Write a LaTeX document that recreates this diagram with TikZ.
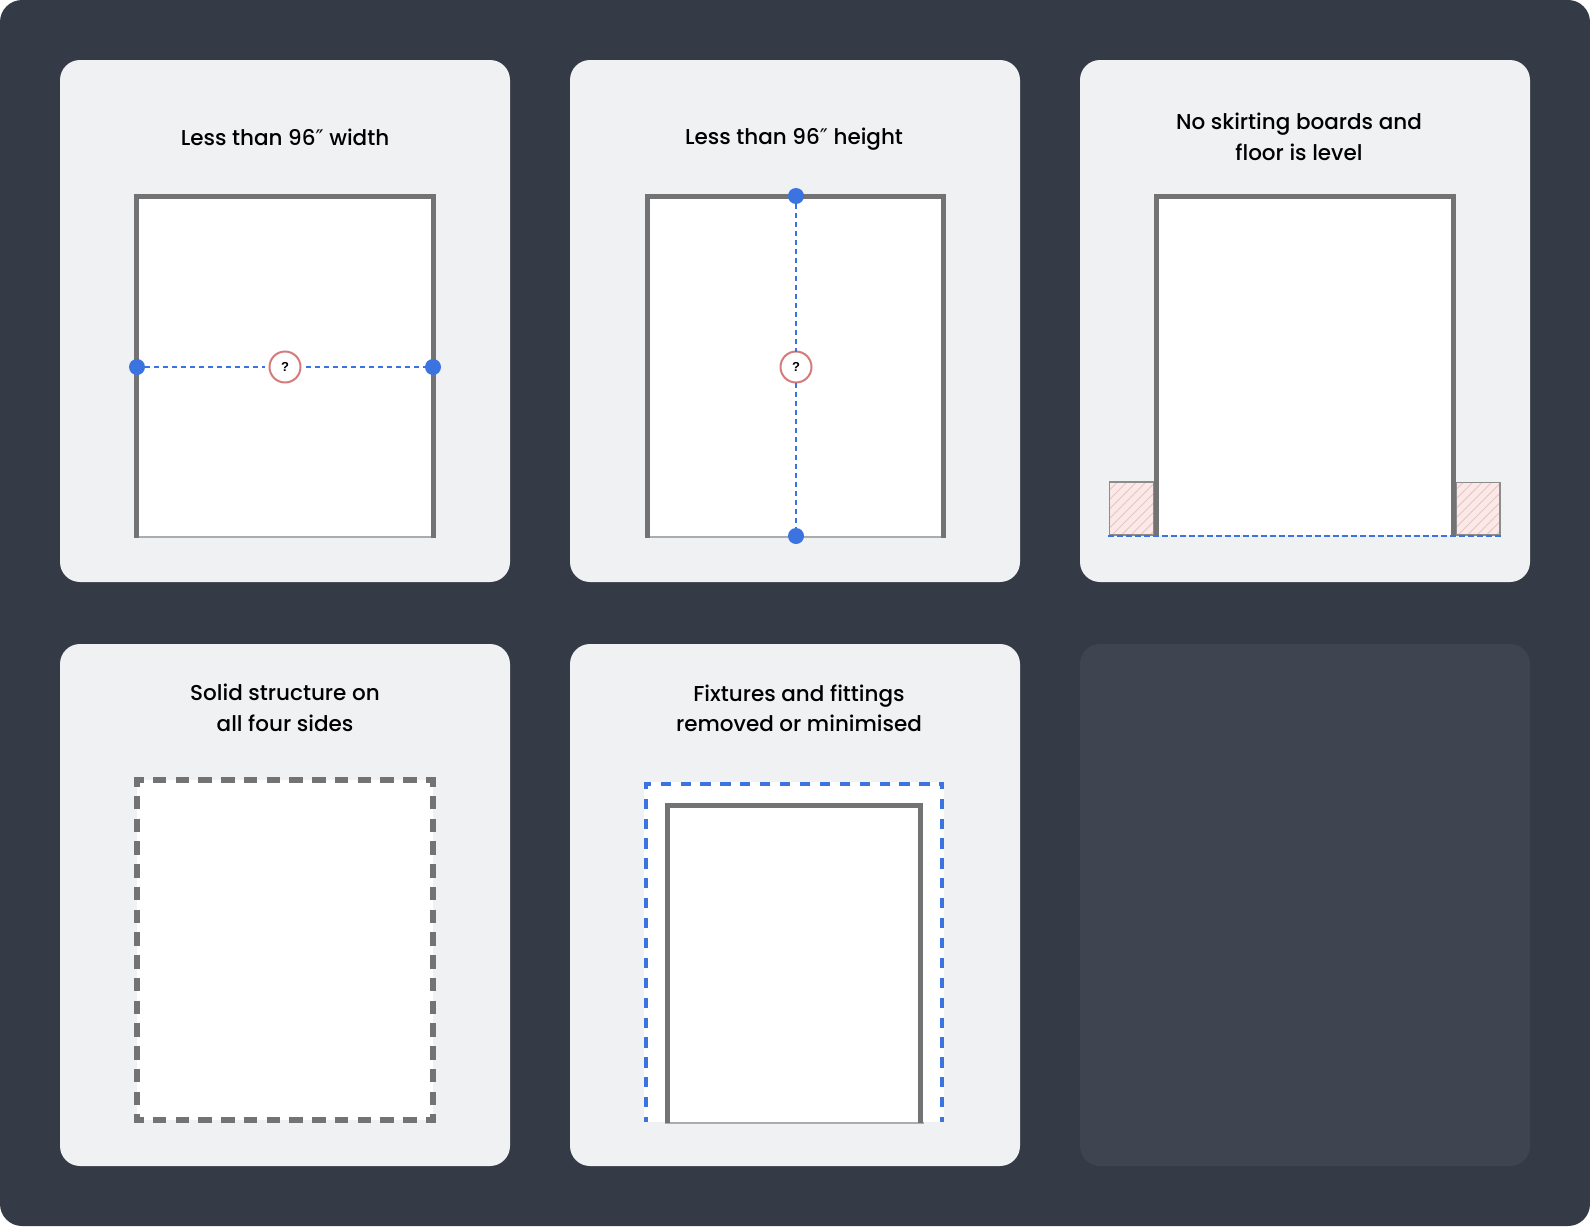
\documentclass[tikz,border=0pt]{standalone}
\usepackage{fontspec}
\setmainfont{Poppins}[UprightFont={* Medium}]
\newfontfamily\qfont{Liberation Sans}[BoldFont={Liberation Sans Bold}]
\newfontfamily\primefont{DejaVu Sans}
\newcommand{\dprime}{{\primefont ″}}
\definecolor{bgc}{HTML}{343A46}
\definecolor{cardc}{HTML}{EFF1F3}
\definecolor{emptyc}{HTML}{3E4550}
\definecolor{wallc}{HTML}{737373}
\definecolor{floorc}{HTML}{A9ADAB}
\definecolor{bluec}{HTML}{3B73E0}
\definecolor{redc}{HTML}{D67B7B}
\definecolor{skirtc}{HTML}{FDE8E8}
\definecolor{hatchc}{HTML}{E0C6C6}
\definecolor{skirtl}{HTML}{8C8C8C}
\tikzset{
 x=1pt,y=-1pt,
 card/.style={fill=cardc,rounded corners=20pt,draw=none},
 emptycard/.style={fill=emptyc,rounded corners=20pt,draw=none},
 title/.style={font=\fontsize{21.5}{30.4}\selectfont,text=black,align=center,inner sep=0pt,anchor=center},
 wall/.style={draw=wallc,line width=5pt,miter limit=10},
 floorline/.style={draw=floorc,line width=2pt},
 room/.style={fill=white,draw=none},
 measure/.style={draw=bluec,line width=2pt,dash pattern=on 5pt off 4pt},
 dotn/.style={circle,fill=bluec,draw=none,minimum size=16pt,inner sep=0pt,outer sep=0pt},
 qmark/.style={circle,fill=white,draw=redc,line width=2pt,minimum size=31pt,inner sep=0pt,outer sep=0pt,font=\qfont\bfseries\fontsize{13}{13}\selectfont,text=black},
 dashwall/.style={draw=wallc,line width=6pt,dash pattern=on 13.5pt off 9.25pt,dash phase=3.8pt},
 dashblue/.style={draw=bluec,line width=4pt,dash pattern=on 10.2pt off 9.7pt,dash phase=3.3pt},
 skirt/.style={fill=skirtc,draw=skirtl,line width=1.5pt},
 hatch/.style={draw=hatchc,line width=1pt},
}
\begin{document}
\begin{tikzpicture}
\useasboundingbox (0,0) rectangle (1590,1226);
\fill[white] (0,0) rectangle (1590,1226);
\fill[bgc,rounded corners=22pt] (0,0) rectangle (1590,1226);
% cards
\path[card] (60,60) rectangle (510,582);
\path[card] (570,60) rectangle (1020,582);
\path[card] (1080,60) rectangle (1530,582);
\path[card] (60,644) rectangle (510,1166);
\path[card] (570,644) rectangle (1020,1166);
\path[emptycard] (1080,644) rectangle (1530,1166);
% titles
\node[title] (t1) at (285,137) {Less than 96\dprime{} width};
\node[title] (t2) at (794,139) {Less than 96\dprime{} height};
\node[title] (t3) at (1299,137) {No skirting boards and\\floor is level};
\node[title] (t4) at (285,708) {Solid structure on\\all four sides};
\node[title] (t5) at (799,708) {Fixtures and fittings\\removed or minimised};
% card 1
\path[room] (136,196) rectangle (434,537);
\draw[floorline] (134,537) -- (435.5,537);
\draw[wall] (136.5,538) -- (136.5,196.5) -- (433,196.5) -- (433,538);
\node[dotn] (a1) at (137,367) {};
\node[dotn] (a2) at (433,367) {};
\node[qmark] (aq) at (285,367) {?};
\draw[measure,shorten >=4.5pt] (a1) -- (aq);
\draw[measure,shorten <=5.5pt] (aq) -- (a2);
% card 2
\path[room] (647,196) rectangle (944,537);
\draw[floorline] (645,537) -- (946,537);
\draw[wall] (647.5,538) -- (647.5,196.5) -- (943.5,196.5) -- (943.5,538);
\node[dotn] (b1) at (796,196) {};
\node[dotn] (b2) at (796,536) {};
\node[qmark] (bq) at (796,367) {?};
\draw[measure] (b1) -- (bq);
\draw[measure] (bq) -- (b2);
% card 3
\path[room] (1156,196) rectangle (1453,535);
\begin{scope}
\clip (1109.5,482) rectangle (1153.5,535);
\fill[skirtc] (1109.5,482) rectangle (1153.5,535);
\foreach \k in {0,...,12} \draw[hatch] (1050+\k*9.5,540) -- ++(65,-65);
\end{scope}
\draw[skirtl,line width=1.5pt] (1109.5,482) rectangle (1153.5,535);
\begin{scope}
\clip (1456,482.5) rectangle (1500,535);
\fill[skirtc] (1456,482.5) rectangle (1500,535);
\foreach \k in {0,...,12} \draw[hatch] (1396+\k*9.5,540) -- ++(65,-65);
\end{scope}
\draw[skirtl,line width=1.5pt] (1456,482.5) rectangle (1500,535);
\draw[wall] (1156.5,536) -- (1156.5,196.5) -- (1453.2,196.5) -- (1453.2,536);
\coordinate (cl) at (1108,535.7);
\coordinate (cr) at (1501,535.7);
\draw[measure,dash pattern=on 6pt off 3pt] (cl) -- (cr);
% card 4
\path[room] (137,780) rectangle (433.3,1120);
\draw[dashwall] (134,780) -- (436.3,780) (134,1120) -- (436.3,1120)
  (137,777) -- (137,1123) (433.3,777) -- (433.3,1123);
% card 5
\path[room] (644,782) rectangle (944,1122);
\draw[dashblue] (644,784) -- (944,784) (646,782) -- (646,1122) (942,782) -- (942,1122);
\path[room] (667,804) rectangle (921,1122);
\draw[floorline] (665,1122.7) -- (923.5,1122.7);
\draw[wall] (667,1123) -- (667,805.2) -- (920.7,805.2) -- (920.7,1123);
\end{tikzpicture}
\end{document}
